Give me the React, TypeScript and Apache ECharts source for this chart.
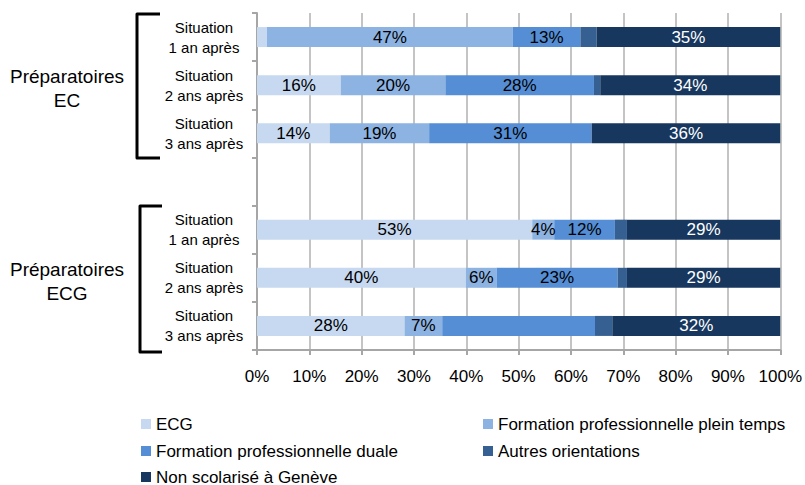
import React, { useEffect, useRef } from "react";
import * as echarts from "echarts";

const rowKeys = ["ec1", "ec2", "ec3", "gap", "ecg1", "ecg2", "ecg3"];
const rowLabels = [
  "Situation\n1 an après",
  "Situation\n2 ans après",
  "Situation\n3 ans après",
  "",
  "Situation\n1 an après",
  "Situation\n2 ans après",
  "Situation\n3 ans après",
];
const groupLabels = ["Préparatoires\nEC", "Préparatoires\nECG"];
const seriesNames = [
  "ECG",
  "Formation professionnelle plein temps",
  "Formation professionnelle duale",
  "Autres orientations",
  "Non scolarisé à Genève",
];
const colors = ["#c6d9f1", "#8db3e2", "#558ed5", "#376092", "#17375e"];
const labelColors = ["#000", "#000", "#000", "#fff", "#fff"];

const ecg = [1.9, 16.0, 13.9, null, 52.6, 39.9, 28.2];
const fppt = [47.0, 20.0, 19.0, null, 4.2, 5.9, 7.2];
const duale = [12.9, 28.4, 31.0, null, 11.6, 23.1, 29.2];
const autres = [3.1, 1.2, 0.1, null, 2.3, 1.8, 3.3];
const nonScol = [35.1, 34.4, 36.0, null, 29.3, 29.3, 32.1];
const seriesValues = [ecg, fppt, duale, autres, nonScol];
// labels that are not printed in the reference: [series index, row index]
const hiddenLabels: [number, number][] = [[2, 6]];

const FONT = "'Liberation Sans', Arial, sans-serif";

// legend placement: [series index, left, top]
const legendSlots: [number, number, number][] = [
  [0, 141, 415.5],
  [1, 483, 415.5],
  [2, 141, 442.5],
  [3, 483, 442.5],
  [4, 141, 468.5],
];

export default function App() {
  const ref = useRef<HTMLDivElement>(null);
  useEffect(() => {
    if (!ref.current) return;
    const chart = echarts.init(ref.current, undefined, { renderer: "svg" });
    const series = seriesValues.map((vals, si) => ({
      name: seriesNames[si],
      type: "bar",
      stack: "total",
      barWidth: 20,
      itemStyle: { color: colors[si] },
      label: {
        show: true,
        position: "inside",
        color: labelColors[si],
        fontFamily: FONT,
        fontSize: 17,
        formatter: (p: any) => Math.round(p.value) + "%",
      },
      data: vals.map((v, ri) => {
        if (v === null) return "-";
        const hide = v < 4 || hiddenLabels.some(([s, r]) => s === si && r === ri);
        return hide ? { value: v, label: { show: false } } : v;
      }),
    }));
    chart.setOption({
      animation: false,
      textStyle: { fontFamily: FONT },
      grid: { left: 257, right: 22, top: 13, bottom: 135, containLabel: false },
      xAxis: {
        type: "value",
        min: 0,
        max: 100,
        interval: 10,
        axisLine: { show: true, lineStyle: { color: "#a6a6a6", width: 2 } },
        axisTick: { show: true, length: 5, lineStyle: { color: "#a6a6a6", width: 2 } },
        splitLine: { show: true, lineStyle: { color: "#c4c4c4", width: 2 } },
        axisLabel: {
          formatter: "{value}%",
          color: "#000",
          fontFamily: FONT,
          fontSize: 17,
          margin: 18,
        },
      },
      yAxis: {
        type: "category",
        inverse: true,
        data: rowKeys,
        axisLine: { show: true, lineStyle: { color: "#a6a6a6", width: 2 } },
        axisTick: { show: true, length: 5, lineStyle: { color: "#a6a6a6", width: 2 } },
        axisLabel: {
          formatter: (_v: string, i: number) => rowLabels[i],
          align: "center",
          margin: 53,
          color: "#000",
          fontFamily: FONT,
          fontSize: 15,
          lineHeight: 20,
        },
      },
      legend: legendSlots.map(([si, left, top]) => ({
        data: [seriesNames[si]],
        orient: "vertical",
        left,
        top,
        padding: 0,
        itemWidth: 10,
        itemHeight: 10,
        icon: "rect",
        textStyle: { fontFamily: FONT, fontSize: 17, color: "#000" },
      })),
      graphic: [
        {
          type: "polyline",
          shape: { points: [[160, 14], [137, 14], [137, 158], [160, 158]] },
          style: { stroke: "#000", lineWidth: 3, fill: null, lineJoin: "round" },
        },
        {
          type: "polyline",
          shape: { points: [[162, 206], [140, 206], [140, 352], [162, 352]] },
          style: { stroke: "#000", lineWidth: 3, fill: null, lineJoin: "round" },
        },
        {
          type: "text",
          x: 67,
          y: 88,
          style: {
            text: groupLabels[0],
            fontFamily: FONT,
            fontSize: 19,
            lineHeight: 24,
            fill: "#000",
            align: "center",
            verticalAlign: "middle",
          },
        },
        {
          type: "text",
          x: 67,
          y: 281,
          style: {
            text: groupLabels[1],
            fontFamily: FONT,
            fontSize: 19,
            lineHeight: 24,
            fill: "#000",
            align: "center",
            verticalAlign: "middle",
          },
        },
      ],
      series,
    });
    return () => chart.dispose();
  }, []);
  return (
    <div
      ref={ref}
      style={{ position: "fixed", left: 0, top: 0, width: 805, height: 485, background: "#fff" }}
    />
  );
}
